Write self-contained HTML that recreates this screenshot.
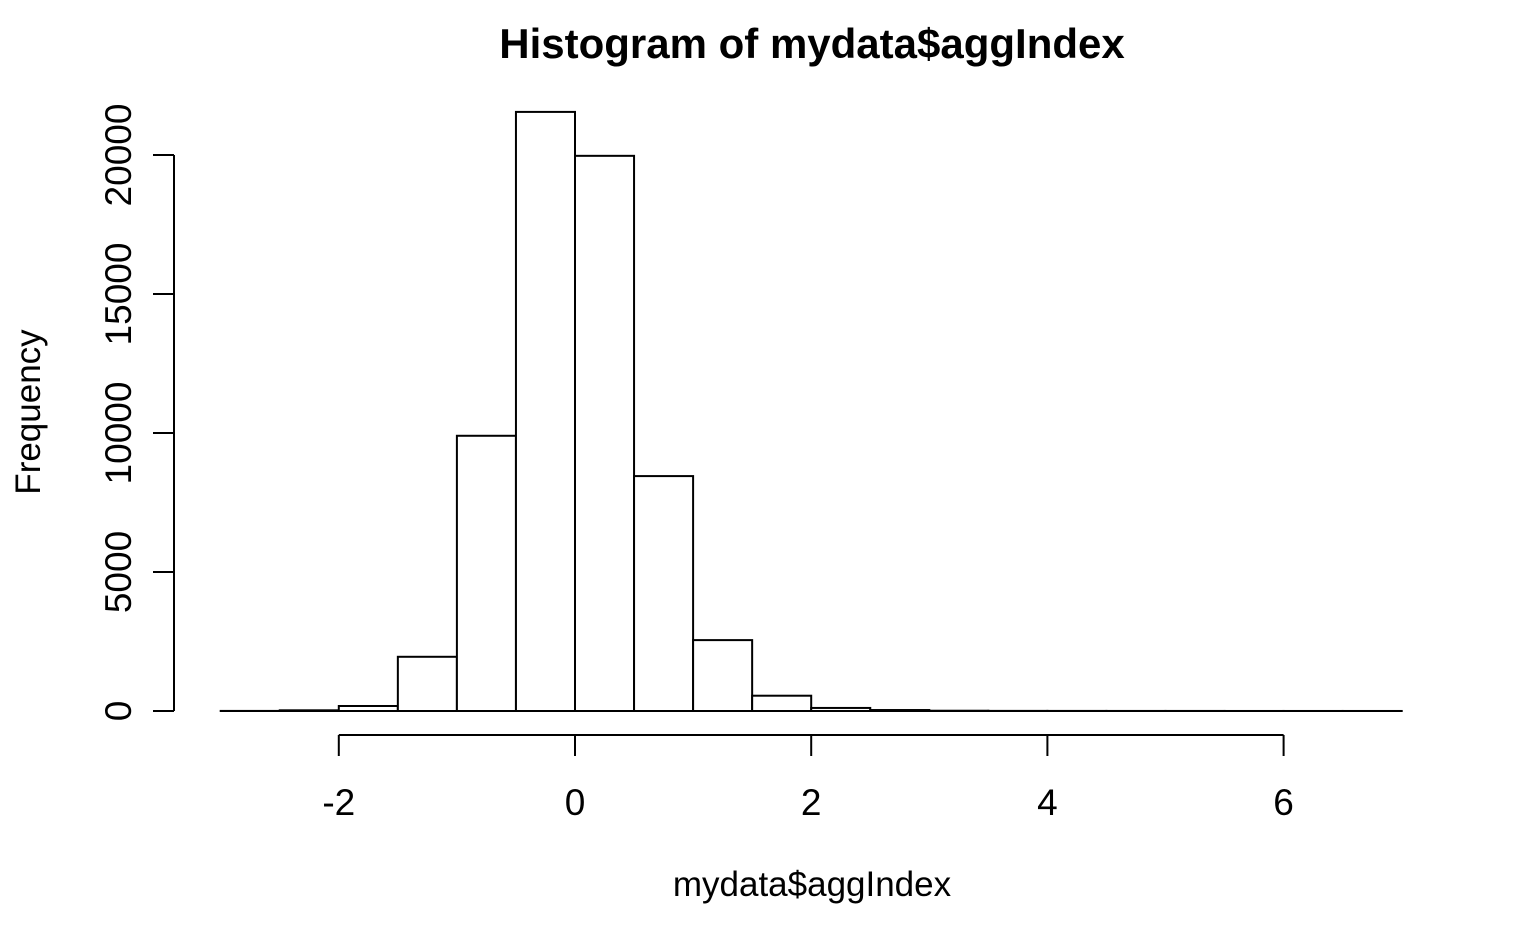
<!DOCTYPE html>
<html><head><meta charset="utf-8"><style>
body{margin:0;background:#fff;}
svg{display:block;font-family:"Liberation Sans",sans-serif;}
</style></head><body>
<svg id="chart" width="1540" height="951" viewBox="0 0 1540 951">
<text x="812" y="58" text-anchor="middle" font-size="42" font-weight="bold">Histogram of mydata$aggIndex</text>
<text x="812" y="896" text-anchor="middle" font-size="35">mydata$aggIndex</text>
<text transform="translate(40,412) rotate(-90)" text-anchor="middle" font-size="35">Frequency</text>
<g id="bars"></g><g id="xaxis"></g><g id="yaxis"></g>
</svg>
<script>
const binStarts=[-3,-2.5,-2,-1.5,-1,-0.5,0,0.5,1,1.5,2,2.5,3,3.5,4,4.5,5,5.5,6,6.5];
const counts=[3,25,180,1950,9900,21550,19970,8450,2550,550,110,35,10,4,3,2,2,1,1,1];
const binWidth=0.5;
const xTicks=[-2,0,2,4,6];
const yTicks=[0,5000,10000,15000,20000];
const xs=v=>575+(v)*118.1;
const ys=v=>711-v*0.0278;
const NS="http://www.w3.org/2000/svg";
function mk(t,a,p){const e=document.createElementNS(NS,t);for(const k in a)e.setAttribute(k,a[k]);p.appendChild(e);return e;}
const bars=document.getElementById('bars');
binStarts.forEach((b,i)=>{
 const x0=xs(b),x1=xs(b+binWidth),y=ys(counts[i]);
 const r=mk('rect',{x:x0,y:y,width:x1-x0,height:711-y,fill:'#fff',stroke:'#000','stroke-width':2},bars);
 
 
});
const xa=document.getElementById('xaxis');
const xl=mk('line',{x1:xs(xTicks[0]),x2:xs(xTicks[xTicks.length-1]),y1:735,y2:735,stroke:'#000','stroke-width':2},xa);


xTicks.forEach(t=>{
 mk('line',{x1:xs(t),x2:xs(t),y1:735,y2:756,stroke:'#000','stroke-width':2},xa);
 const tx=mk('text',{x:xs(t),y:815,'text-anchor':'middle','font-size':37},xa);
 tx.textContent=t;
 
 
});
const ya=document.getElementById('yaxis');
const yl=mk('line',{x1:174,x2:174,y1:ys(yTicks[yTicks.length-1]),y2:ys(yTicks[0]),stroke:'#000','stroke-width':2},ya);


yTicks.forEach(t=>{
 mk('line',{x1:153,x2:174,y1:ys(t),y2:ys(t),stroke:'#000','stroke-width':2},ya);
 const tx=mk('text',{transform:`translate(131,${ys(t)}) rotate(-90)`,'text-anchor':'middle','font-size':37},ya);
 tx.textContent=t;
 
 
});
</script>
</body></html>
